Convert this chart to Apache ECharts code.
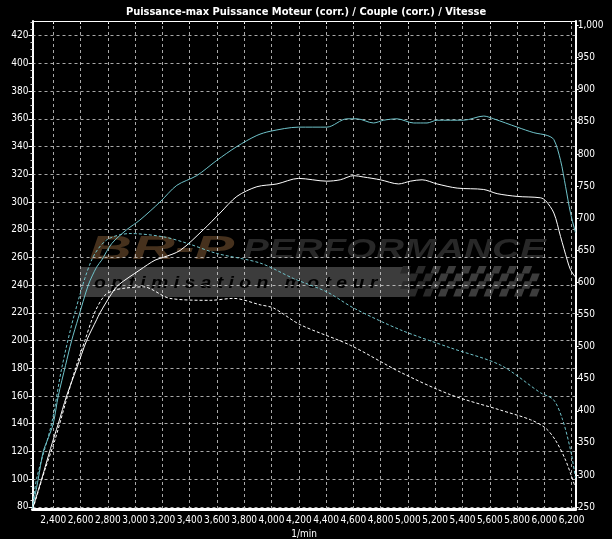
<!DOCTYPE html>
<html><head><meta charset="utf-8">
<script src="https://cdn.jsdelivr.net/npm/echarts@6/dist/echarts.min.js"></script>
<style>html,body{margin:0;padding:0;background:#000}#c{width:612px;height:539px}</style>
</head><body><div id="c"></div>
<script>
// ---- tick labels ----
const rpmTicks = [2400,2600,2800,3000,3200,3400,3600,3800,4000,4200,4400,4600,4800,5000,5200,5400,5600,5800,6000,6200];
const hpTicks = [80,100,120,140,160,180,200,220,240,260,280,300,320,340,360,380,400,420];
const hpMinor = [85,90,95,105,110,115,125,130,135,145,150,155,165,170,175,185,190,195,205,210,215,225,230,235,245,250,255,265,270,275,285,290,295,305,310,315,325,330,335,345,350,355,365,370,375,385,390,395,405,410,415,425,430];
const nmTicks = [250,300,350,400,450,500,550,600,650,700,750,800,850,900,950,1000];

// ---- series: power run 1 (cyan solid, hp) ----
const p1Rpm = [2248,2290,2327,2365,2400,2437,2490,2535,2583,2657,2718,2755,2829,2939,3036,3183,3306,3452,3599,3746,3893,3990,4198,4406,4553,4627,4748,4822,4920,5042,5140,5214,5409,5556,5629,5801,5923,6021,6070,6119,6156,6192,6228];
const p1Hp  = [79,100,120,130,140,160,182,200,216,240,253,258,270,280,287,300,312,319,330,340,348,351,354,354,360,360,357,359,360,357,357,359,359,362,360,354,350,348,345,330,311,292,278];
// ---- power run 2 (white solid, hp) ----
const p2Rpm = [2250,2315,2380,2437,2498,2572,2645,2718,2743,2829,2877,3036,3146,3207,3330,3501,3623,3746,3893,4040,4198,4406,4504,4602,4675,4798,4932,5018,5104,5214,5361,5556,5654,5801,5972,6009,6070,6119,6168,6192,6226];
const p2Hp  = [79,100,122,140,160,180,200,215,220,234,240,251,258,260,265,280,292,304,311,313,317,315,316,319,318,316,313,315,316,313,310,309,306,304,303,301,292,275,258,251,246];
// ---- torque run 1 (cyan dashed, N) ----
const t1Rpm = [2248,2278,2388,2462,2559,2682,2792,2963,3205,3379,3599,3917,4161,4407,4602,4945,5312,5679,5972,6068,6134,6192,6229];
const t1Nm  = [247,294,380,466,553,635,666,676,671,661,645,630,606,585,560,526,498,471,428,417,386,339,295];
// ---- torque run 2 (white dashed, N) ----
const t2Rpm = [2251,2339,2412,2486,2559,2633,2706,2779,2853,2926,3061,3256,3550,3721,3917,4015,4211,4578,4945,5312,5679,5899,6009,6082,6156,6222];
const t2Nm  = [247,308,354,409,463,510,554,580,588,591,593,575,572,575,565,560,534,502,460,425,401,386,373,354,323,284];

const X_MIN = 2248, X_MAX = 6230;
const HP_MIN = 78.4, HP_MAX = 430.6;
const NM_MIN = 247, NM_MAX = 1007;

const FONT = '"Liberation Sans Narrow","DejaVu Sans Condensed","DejaVu Sans",sans-serif';
const CYAN = '#6fc3ca';
const GRIDC = 'rgba(210,210,210,0.8)';
const fmt = v => String(v).replace(/\B(?=(\d{3})+(?!\d))/g, ',');
const zip = (a, b) => a.map((x, i) => [x, b[i]]);

// watermark (decoration)
const wm = [];
wm.push({type:'rect', z:-10, shape:{x:80,y:267,width:330,height:30}, style:{fill:'#3c3c3c'}, silent:true});
for (let r = 0; r < 4; r++) {
  for (let c = 0; c < 18; c++) {
    if ((r + c) % 2) continue;
    const x = 400 + c * 7.6, y = 266 + r * 7.6, s = 3;
    wm.push({type:'polygon', z:-10, silent:true,
      shape:{points:[[x+s,y],[x+7.6+s,y],[x+7.6,y+7.6],[x,y+7.6]]},
      style:{fill: c < 4 ? '#2a2a2a' : '#3c3c3c'}});
  }
}
wm.push({type:'text', z:-9, silent:true, x:94, y:283, scaleX:1.14, style:{text:'o p t i m i s a t i o n   m o t e u r', fill:'#000', font:'italic bold 17px "Liberation Sans","DejaVu Sans",sans-serif', verticalAlign:'middle'}});
wm.push({type:'text', z:-9, silent:true, x:89, y:250, scaleX:1.8, style:{text:'BR-P', fill:'#46311d', font:'italic bold 33px "Liberation Sans","DejaVu Sans",sans-serif', verticalAlign:'middle'}});
wm.push({type:'text', z:-9, silent:true, x:243, y:250, scaleX:1.38, style:{text:'PERFORMANCE', fill:'#282828', font:'italic bold 28px "Liberation Sans","DejaVu Sans",sans-serif', verticalAlign:'middle'}});

const gridMark = {silent:true, symbol:'none', label:{show:false}, emphasis:{disabled:true},
  lineStyle:{color:GRIDC, width:1, type:[3,3]}, animation:false};

const chart = echarts.init(document.getElementById('c'), null, {renderer:'canvas'});
chart.setOption({
  backgroundColor:'#000',
  animation:false,
  title:{text:'Puissance-max Puissance Moteur (corr.) / Couple (corr.) / Vitesse', left:'center', top:2,
    textStyle:{color:'#fff', fontWeight:'bold', fontSize:11, fontFamily:FONT}},
  grid:{left:32.5, right:36.3, top:21, bottom:30, containLabel:false, outerBoundsMode:'none'},
  graphic:wm,
  xAxis:[
    {type:'value', min:X_MIN, max:X_MAX, position:'bottom',
     axisLine:{lineStyle:{color:'#fff', width:3}},
     axisTick:{show:false, customValues:rpmTicks},
     axisLabel:{customValues:rpmTicks, formatter:fmt, color:'#fff', fontSize:10, fontFamily:FONT, margin:6, hideOverlap:false},
     splitLine:{show:false},
     name:'1/min', nameLocation:'middle', nameGap:19, nameTextStyle:{color:'#fff', fontSize:10, fontFamily:FONT}},
    {type:'value', min:X_MIN, max:X_MAX, position:'top',
     axisLine:{lineStyle:{color:'#fff', width:1}},
     axisTick:{show:true, inside:true, length:3, customValues:rpmTicks, lineStyle:{color:'#fff'}},
     axisLabel:{show:false}, splitLine:{show:false}}
  ],
  yAxis:[
    {type:'value', min:HP_MIN, max:HP_MAX, position:'left',
     axisLine:{show:true, lineStyle:{color:'#fff', width:2}},
     axisTick:{show:true, length:4, customValues:hpTicks, lineStyle:{color:'#fff'}},
     axisLabel:{customValues:hpTicks, color:'#fff', fontSize:10, fontFamily:FONT, margin:4},
     splitLine:{show:false},
     name:'hp', nameLocation:'middle', nameGap:20, nameRotate:90, nameTextStyle:{color:'#fff', fontSize:10, fontFamily:FONT}},
    {type:'value', min:NM_MIN, max:NM_MAX, position:'right',
     axisLine:{show:true, lineStyle:{color:'#fff', width:2}},
     axisTick:{show:true, length:3, customValues:nmTicks, lineStyle:{color:'#fff'}},
     axisLabel:{customValues:nmTicks, formatter:fmt, color:'#fff', fontSize:10, fontFamily:FONT, margin:2},
     splitLine:{show:false},
     name:'N (Moteur)', nameLocation:'middle', nameGap:23, nameRotate:-90, nameTextStyle:{color:'#fff', fontSize:10, fontFamily:FONT}},
    {type:'value', min:HP_MIN, max:HP_MAX, position:'left',
     axisLine:{show:false},
     axisTick:{show:true, length:2, customValues:hpMinor, lineStyle:{color:'#ccc'}},
     axisLabel:{show:false}, splitLine:{show:false}}
  ],
  series:[
    {type:'line', name:'gridX', xAxisIndex:0, yAxisIndex:0, data:[], z:1,
     markLine:Object.assign({data:rpmTicks.map(v => ({xAxis:v}))}, gridMark)},
    {type:'line', name:'gridY', xAxisIndex:0, yAxisIndex:0, data:[], z:1,
     markLine:Object.assign({data:hpTicks.map(v => ({yAxis:v}))}, gridMark)},
    {type:'line', name:'P1', xAxisIndex:0, yAxisIndex:0, data:zip(p1Rpm,p1Hp), showSymbol:false, smooth:0.3,
     lineStyle:{color:CYAN, width:1}, z:5},
    {type:'line', name:'P2', xAxisIndex:0, yAxisIndex:0, data:zip(p2Rpm,p2Hp), showSymbol:false, smooth:0.3,
     lineStyle:{color:'#fff', width:1}, z:5},
    {type:'line', name:'T1', xAxisIndex:0, yAxisIndex:1, data:zip(t1Rpm,t1Nm), showSymbol:false, smooth:0.3,
     lineStyle:{color:CYAN, width:1, type:[3,2]}, z:5},
    {type:'line', name:'T2', xAxisIndex:0, yAxisIndex:1, data:zip(t2Rpm,t2Nm), showSymbol:false, smooth:0.3,
     lineStyle:{color:'#fff', width:1, type:[3,2]}, z:5}
  ]
});
</script></body></html>
